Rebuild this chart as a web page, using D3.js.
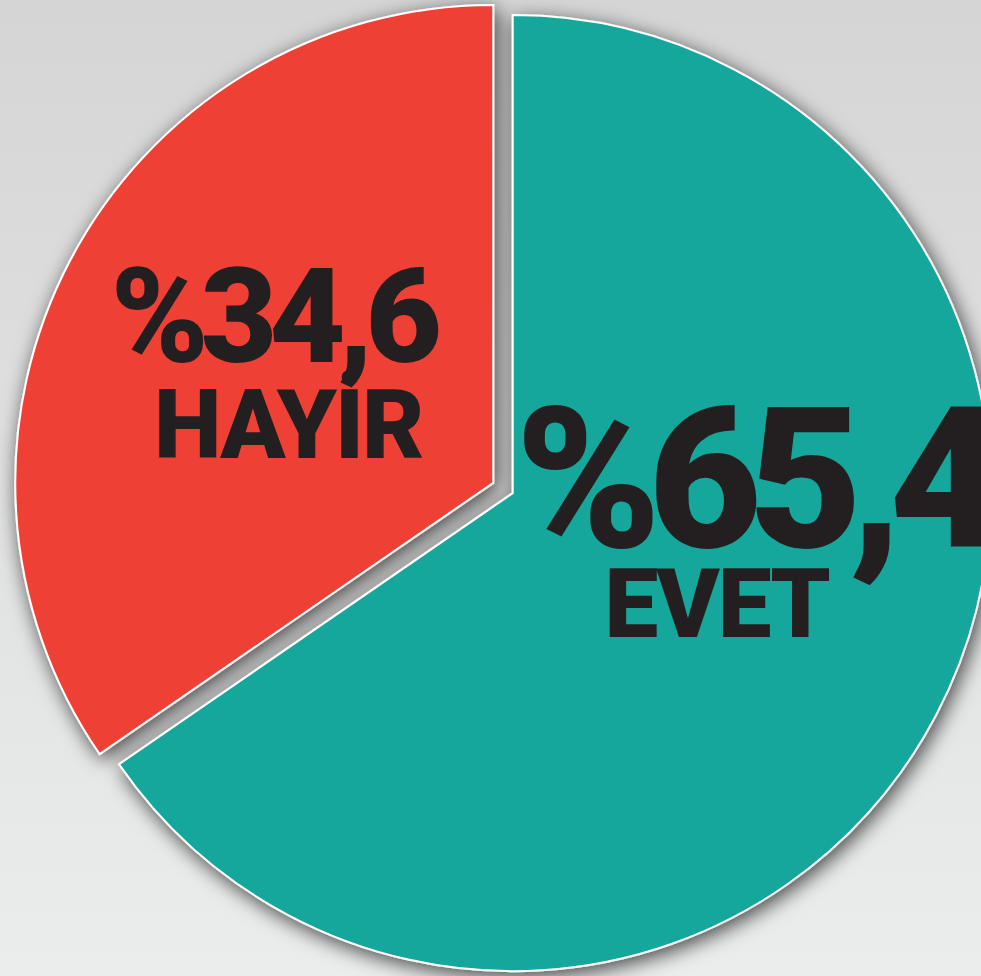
<!DOCTYPE html>
<html>
<head>
<meta charset="utf-8">
<script src="https://cdn.jsdelivr.net/npm/d3@7"></script>
<style>
  html, body { margin: 0; padding: 0; overflow: hidden; }
  svg { display: block; }
  text { font-family: Roboto, 'Liberation Sans', sans-serif; font-weight: 900; fill: #231f20; }
</style>
</head>
<body>
<div id="chart"></div>
<script>
// referendum result
const labels = ['EVET', 'HAYİR']
const values = [65.4, 34.6]
const colors = ['#12a79c', '#ef4036']

const width = 981
const height = 976
const radius = 478
const cx = 503
const cy = 488
const explode = 11

const svg = d3.select('#chart').append('svg')
  .attr('width', width)
  .attr('height', height)

const defs = svg.append('defs')
const bg = defs.append('linearGradient')
  .attr('id', 'bg')
  .attr('x1', 0).attr('y1', 0).attr('x2', 0).attr('y2', 1)
bg.append('stop').attr('offset', '0%').attr('stop-color', '#d5d5d5')
bg.append('stop').attr('offset', '100%').attr('stop-color', '#ebecec')

const shadow = defs.append('filter')
  .attr('id', 'shadow')
  .attr('x', '-20%').attr('y', '-20%')
  .attr('width', '140%').attr('height', '140%')
shadow.append('feDropShadow')
  .attr('dx', 3)
  .attr('dy', 5)
  .attr('stdDeviation', 10)
  .attr('flood-color', '#000')
  .attr('flood-opacity', 0.7)

svg.append('rect')
  .attr('width', width)
  .attr('height', height)
  .attr('fill', 'url(#bg)')

const pie = d3.pie().sort(null).value(d => d)
const arcs = pie(values)
const arc = d3.arc().innerRadius(0).outerRadius(radius)
const labelArc = d3.arc().innerRadius(0).outerRadius(radius * 1.03)

// push each slice out along its bisector
function offset (d, k) {
  const a = (d.startAngle + d.endAngle) / 2
  return [Math.sin(a) * k, -Math.cos(a) * k]
}

const g = svg.append('g')
  .attr('transform', `translate(${cx},${cy})`)

g.append('g')
  .attr('filter', 'url(#shadow)')
  .selectAll('path')
  .data(arcs)
  .enter().append('path')
  .attr('transform', d => `translate(${offset(d, explode)})`)
  .attr('d', arc)
  .attr('fill', (d, i) => colors[i])
  .attr('stroke', '#fff')
  .attr('stroke-width', 2)
  .attr('stroke-linejoin', 'miter')

// label tweaks relative to the slice centroid
const labelPos = [
  { ndx: 22, ndy: -61, size: 196, ls: -13, mdx: -14, mdy: 29 },
  { ndx: -3, ndy: -6, size: 132, ls: -8, mdx: 13, mdy: 90 }
]

const lab = g.selectAll('g.label')
  .data(arcs)
  .enter().append('g')
  .attr('class', 'label')
  .attr('transform', d => {
    const c = labelArc.centroid(d)
    const o = offset(d, explode)
    return `translate(${c[0] + o[0]},${c[1] + o[1]})`
  })

lab.append('text')
  .attr('x', (d, i) => labelPos[i].ndx)
  .attr('y', (d, i) => labelPos[i].ndy)
  .attr('text-anchor', 'middle')
  .attr('font-size', (d, i) => labelPos[i].size)
  .attr('letter-spacing', (d, i) => labelPos[i].ls)
  .text(d => '%' + String(d.data).replace('.', ','))

lab.append('text')
  .attr('x', (d, i) => labelPos[i].mdx)
  .attr('y', (d, i) => labelPos[i].mdy)
  .attr('text-anchor', 'middle')
  .attr('font-size', 96)
  .attr('letter-spacing', -2)
  .text((d, i) => labels[i])
</script>
</body>
</html>
